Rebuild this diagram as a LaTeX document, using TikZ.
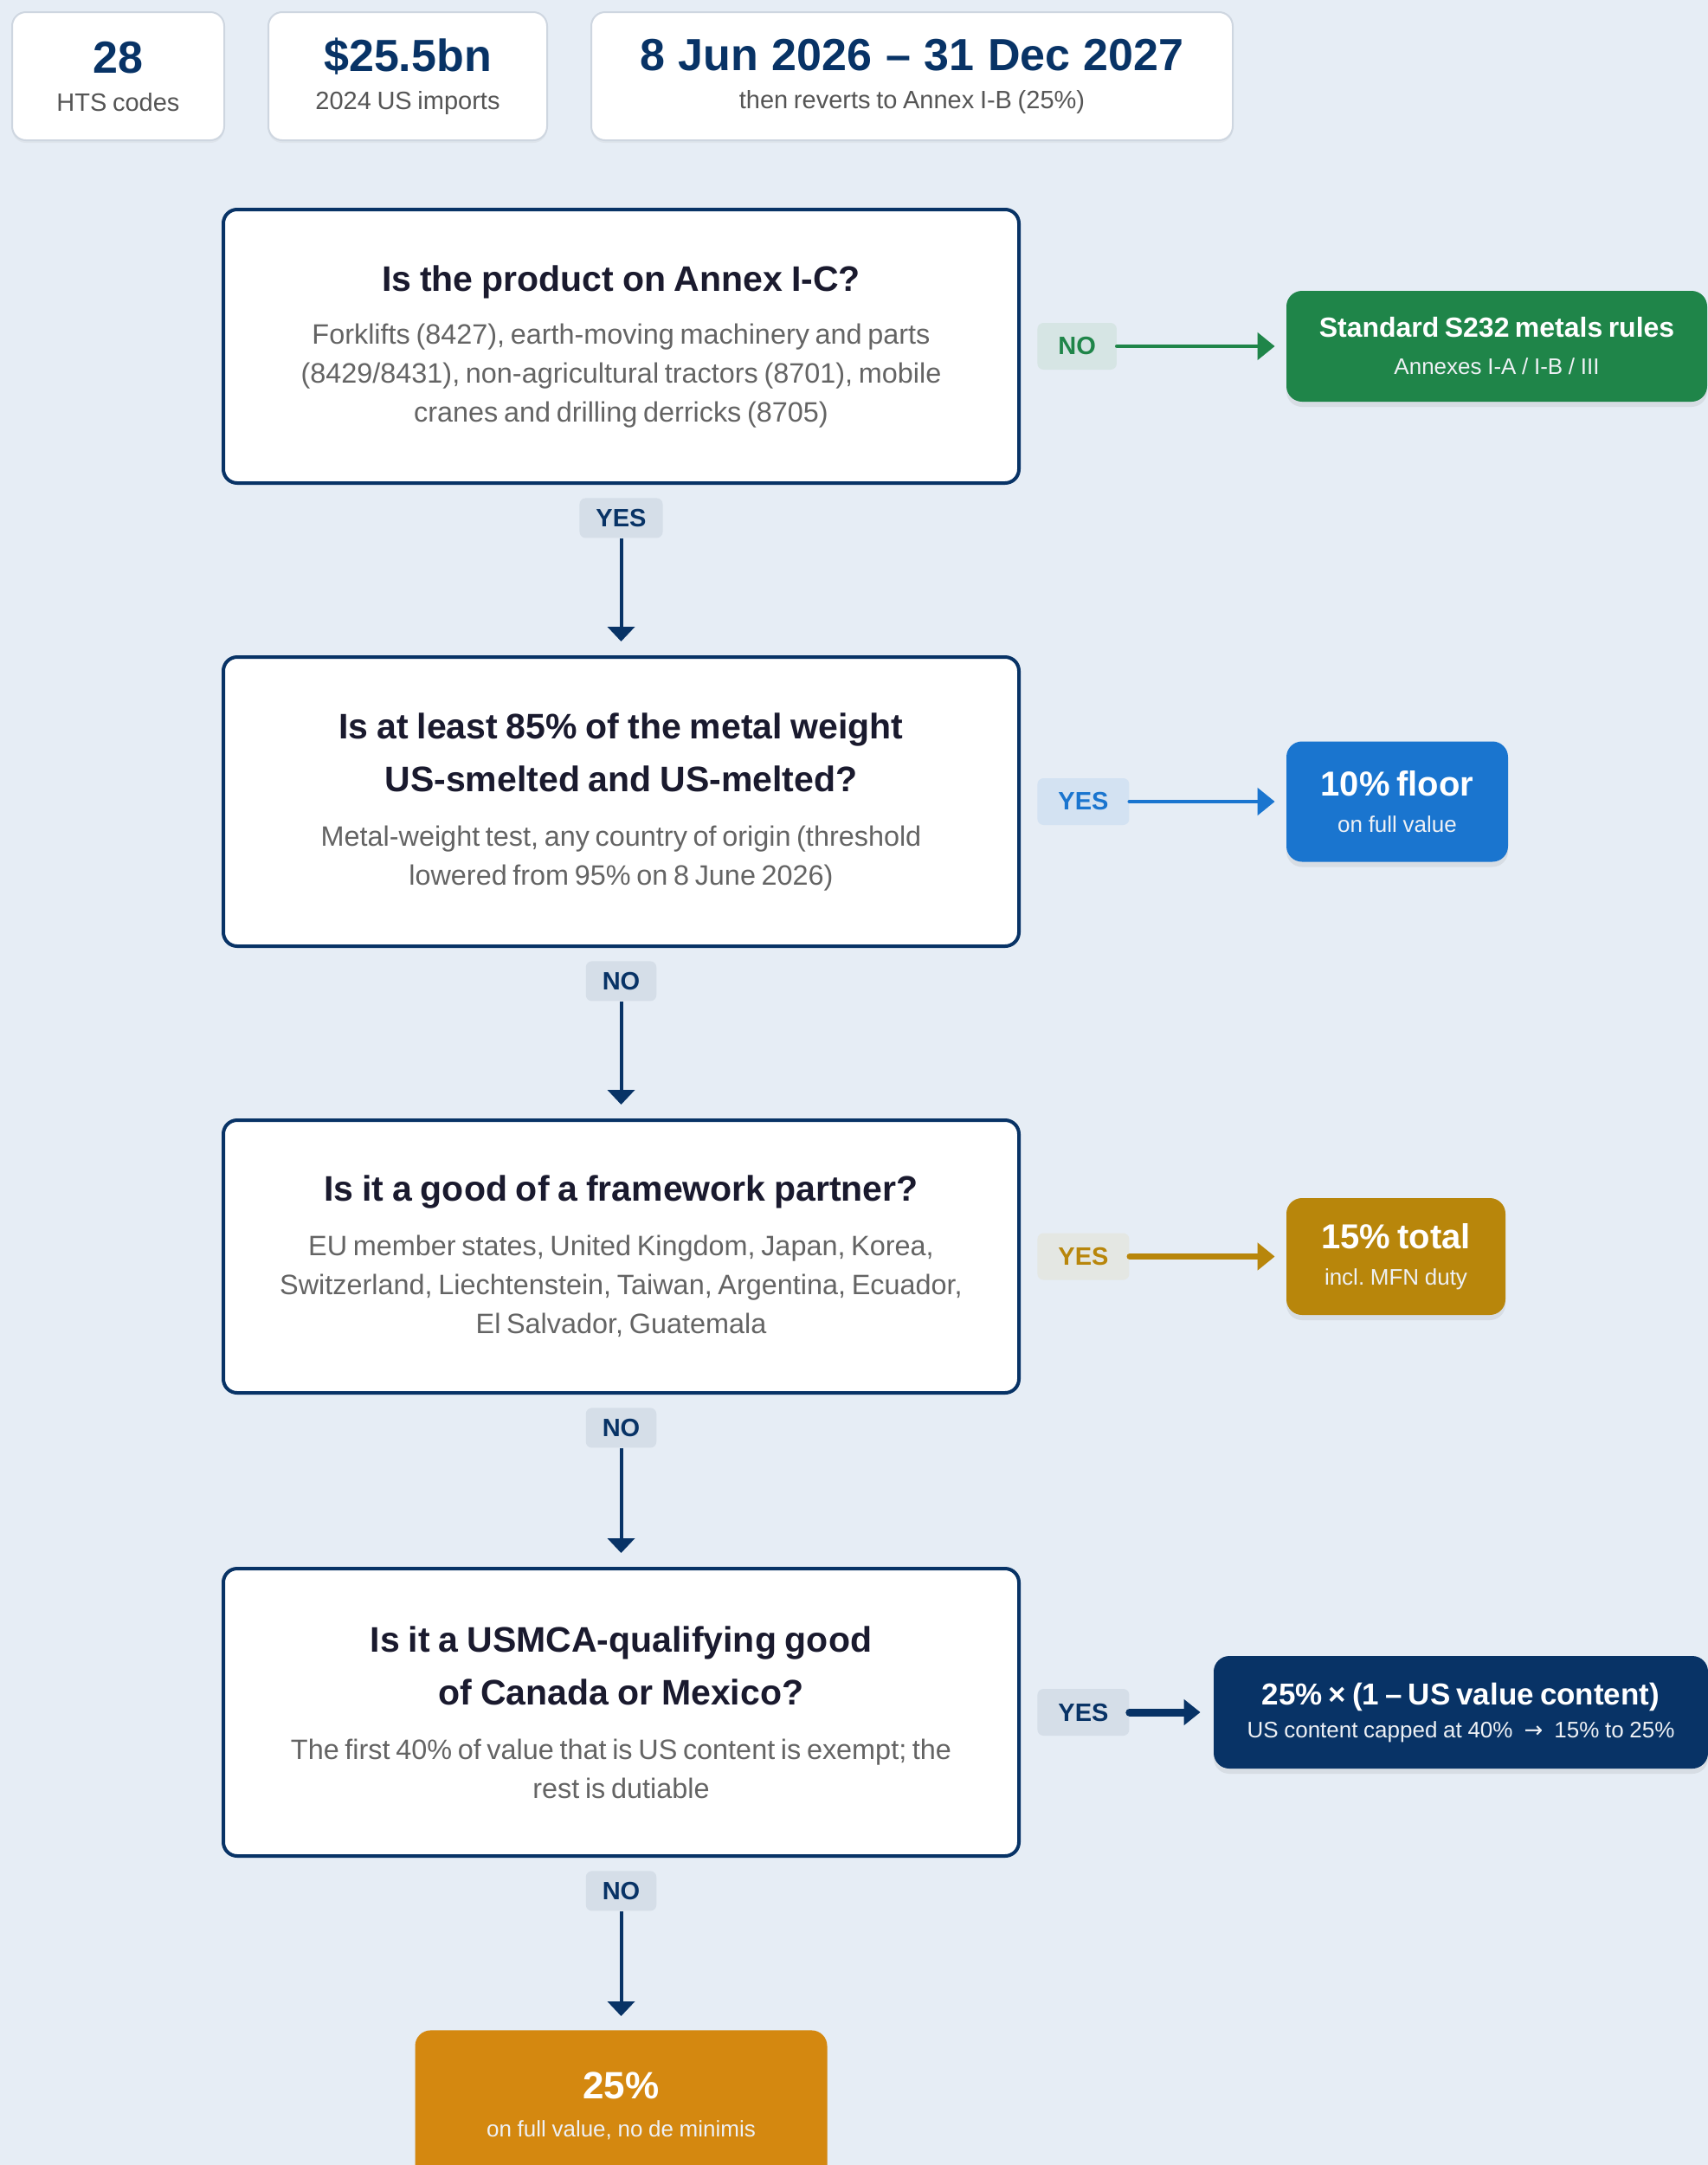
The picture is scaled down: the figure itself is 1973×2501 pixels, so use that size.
\documentclass[tikz,border=0pt]{standalone}
\usepackage{fontspec}
\setmainfont{Liberation Sans}
\newfontfamily\arrowfont{DejaVu Sans}
\usepackage{tikz}
\usetikzlibrary{arrows.meta,shadows,positioning}
\setlength{\parindent}{0pt}
\frenchspacing
\definecolor{pagebg}{RGB}{230,237,245}
\definecolor{navy}{RGB}{8,51,102}
\definecolor{okgreen}{RGB}{31,133,73}
\definecolor{floorblue}{RGB}{26,117,207}
\definecolor{dealgold}{RGB}{184,134,11}
\definecolor{fullorange}{RGB}{212,136,16}
\definecolor{qink}{RGB}{26,26,46}
\definecolor{qgray}{RGB}{100,100,100}
\definecolor{statgray}{RGB}{85,85,85}
\definecolor{statline}{RGB}{206,214,224}
\definecolor{subwhite}{RGB}{238,241,245}
\definecolor{navytint}{RGB}{213,222,232}
\definecolor{greentint}{RGB}{214,229,228}
\definecolor{bluetint}{RGB}{211,226,242}
\definecolor{goldtint}{RGB}{228,231,227}
\newcommand{\statnum}[1]{{\fontsize{26}{30}\selectfont\bfseries\spaceskip=0.3em\relax\color{navy}#1\par}}
\newcommand{\statsub}[1]{{\fontsize{14.5}{22}\selectfont\color{statgray}#1\par}}
\newcommand{\qhead}[1]{{\fontsize{20.5}{30.5}\selectfont\bfseries\spaceskip=0.24em\relax\color{qink}#1\par}}
\newcommand{\qnote}[1]{{\fontsize{16.2}{22.5}\selectfont\color{qgray}#1\par}}
\newcommand{\rhead}[2]{{\fontsize{#1}{#1}\selectfont\bfseries\spaceskip=0.2em\relax #2\par}}
\newcommand{\rsub}[2]{{\fontsize{13}{#1}\selectfont\color{subwhite}#2\par}}
\tikzstyle{statbox} = [rectangle, draw=statline, line width=1pt, fill=white,
 rounded corners=8pt, inner xsep=0pt, align=center,
 drop shadow={shadow xshift=0pt, shadow yshift=-1.5pt, opacity=0.08}]
\tikzstyle{question} = [rectangle, draw=navy, line width=2pt, fill=white,
 rounded corners=8pt, text width=440pt, inner xsep=9.75pt, align=center]
\tikzstyle{result} = [rectangle, rounded corners=9pt, text=white, inner xsep=0pt,
 align=center, drop shadow={shadow xshift=0pt, shadow yshift=-3pt, opacity=0.14}]
\tikzstyle{vlabel} = [rectangle, rounded corners=3.5pt, fill=navytint, text=navy,
 font=\fontsize{14.5}{16}\selectfont\bfseries, inner xsep=9.5pt, inner ysep=0pt,
 minimum height=23pt]
\tikzstyle{hlabel} = [rectangle, rounded corners=3.5pt,
 font=\fontsize{14.5}{16}\selectfont\bfseries, inner xsep=12pt, inner ysep=0pt,
 minimum height=27pt]
\tikzstyle{down} = [-{Triangle[width=15.5pt,length=8.5pt]}, line width=2pt, navy,
 shorten >=8pt]
\tikzstyle{side} = [-{Triangle[width=15.5pt,length=10pt]}, line cap=round]

\begin{document}
\begin{tikzpicture}[x=0.5pt, y=-0.5pt]
\clip (0,0) rectangle (1973,2501);
\fill[pagebg] (0,0) rectangle (1973,2501);

\node[statbox, text width=122.5pt, minimum height=74pt] (codes) at (136.5,88)
 {\statnum{28}\statsub{HTS codes}};
\node[statbox, text width=161pt, minimum height=74pt] (imports) at (471,88)
 {\statnum{\$25.5bn}\statsub{2024 US imports}};
\node[statbox, text width=370.5pt, minimum height=74pt] (window) at (1053.5,88)
 {\statnum{8 Jun 2026 – 31 Dec 2027}\statsub{then reverts to Annex I-B (25\%)}};

\node[question, minimum height=158pt] (annex) at (717.5,400)
 {\qhead{Is the product on Annex I-C?}\vspace{8pt}
 \qnote{Forklifts (8427), earth-moving machinery and parts\\
 (8429/8431), non-agricultural tractors (8701), mobile\\
 cranes and drilling derricks (8705)}};

\node[question, minimum height=167pt] (melted) at (717.5,926)
 {\qhead{Is at least 85\% of the metal weight\\ US-smelted and US-melted?}\vspace{9pt}
 \qnote{Metal-weight test, any country of origin (threshold\\
 lowered from 95\% on 8 June 2026)}};

\node[question, minimum height=157.5pt] (partner) at (717.5,1451.5)
 {\qhead{Is it a good of a framework partner?}\vspace{9pt}
 \qnote{EU member states, United Kingdom, Japan, Korea,\\
 Switzerland, Liechtenstein, Taiwan, Argentina, Ecuador,\\
 El Salvador, Guatemala}};

\node[question, minimum height=166pt] (usmca) at (717.5,1978)
 {\qhead{Is it a USMCA-qualifying good\\ of Canada or Mexico?}\vspace{9pt}
 \qnote{The first 40\% of value that is US content is exempt; the\\
 rest is dutiable}};

\node[result, fill=fullorange, text width=238pt, minimum height=87pt, anchor=north]
 (fullrate) at (717.5,2345)
 {\rhead{22}{25\%}\rsub{22}{on full value, no de minimis}};

\node[vlabel, below=7.5pt of annex] (yes1) {YES};
\node[vlabel, below=7.5pt of melted] (no2) {NO};
\node[vlabel, below=7.5pt of partner] (no3) {NO};
\node[vlabel, below=7.5pt of usmca] (no4) {NO};

\draw[down] (yes1) -- (melted);
\draw[down] (no2) -- (partner);
\draw[down] (no3) -- (usmca);
\draw[down] (no4) -- (fullrate);

\node[hlabel, fill=greentint, text=okgreen, right=9.5pt of annex] (no1) {NO};
\node[hlabel, fill=bluetint, text=floorblue, right=9.5pt of melted] (yes2) {YES};
\node[hlabel, fill=goldtint, text=dealgold, right=9.5pt of partner] (yes3) {YES};
\node[hlabel, fill=navytint, text=navy, right=9.5pt of usmca] (yes4) {YES};

\node[result, fill=okgreen, text width=243pt, minimum height=64pt] (standard) at (1729,400)
 {\rhead{16}{Standard S232 metals rules}\rsub{21.5}{Annexes I-A / I-B / III}};
\node[result, fill=floorblue, text width=128pt, minimum height=69.5pt] (floor) at (1614,926)
 {\rhead{20}{10\% floor}\rsub{21}{on full value}};
\node[result, fill=dealgold, text width=126.5pt, minimum height=67.5pt] (deal) at (1612.5,1451.5)
 {\rhead{20}{15\% total}\rsub{21}{incl. MFN duty}};
\node[result, fill=navy, text width=285.5pt, minimum height=65pt] (content) at (1687.5,1978)
 {\rhead{17.5}{25\% × (1 – US value content)}%
 \rsub{19}{US content capped at 40\%\enspace{\arrowfont →}\enspace15\% to 25\%}};

\draw[side, okgreen, line width=2.35pt, shorten >=6.5pt] (no1) -- (standard);
\draw[side, floorblue, line width=2.35pt, shorten >=6.5pt] (yes2) -- (floor);
\draw[side, dealgold, line width=3.3pt, shorten >=6.5pt] (yes3) -- (deal);
\draw[side, navy, line width=4.5pt, shorten >=7.5pt,
 -{Triangle[width=14.5pt,length=9.5pt]}] (yes4) -- (content);

\end{tikzpicture}
\end{document}
